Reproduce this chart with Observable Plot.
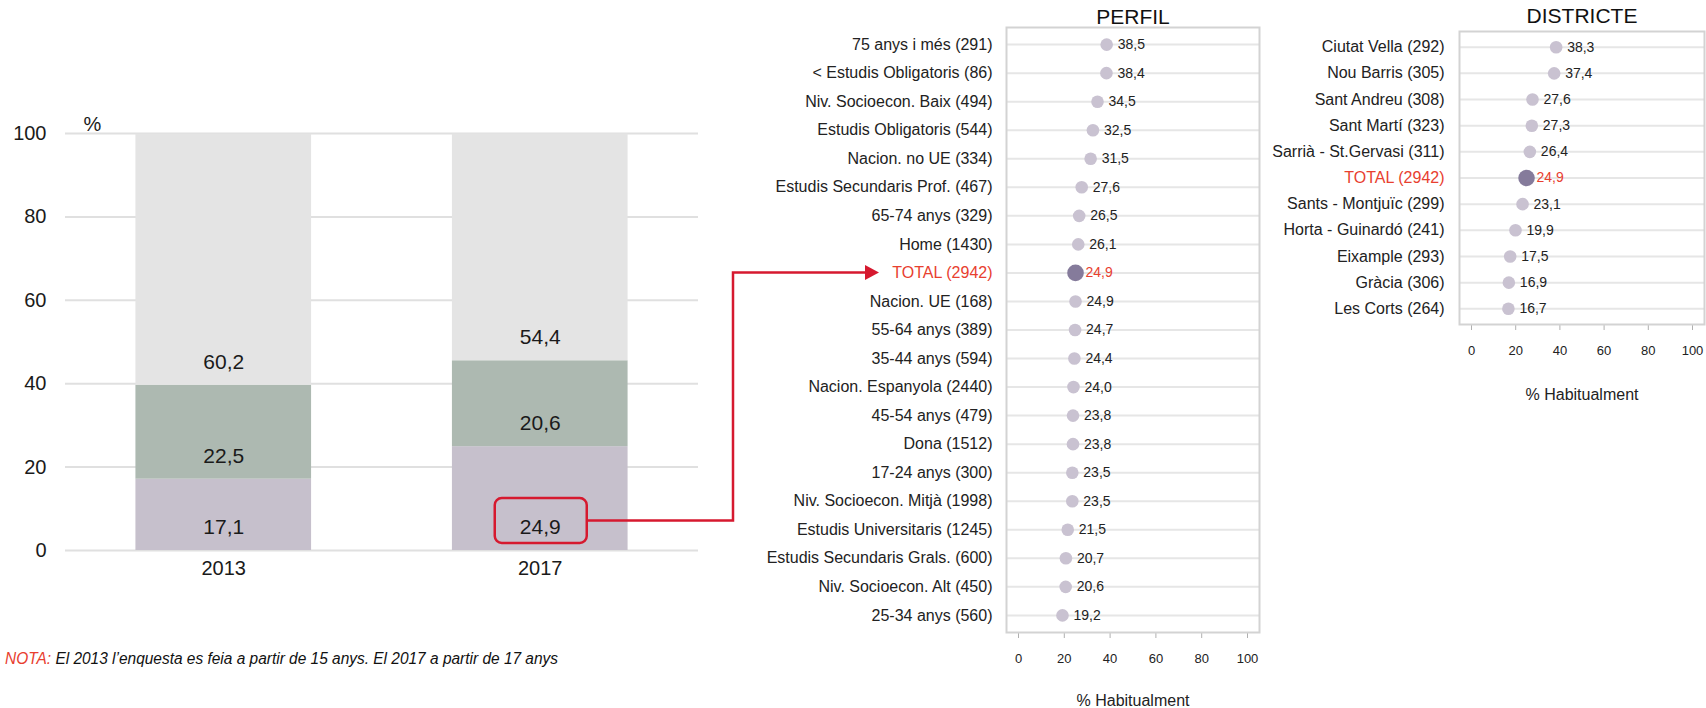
<!DOCTYPE html>
<html>
<head>
<meta charset="utf-8">
<script src="https://cdn.jsdelivr.net/npm/d3@7"></script>
<script src="https://cdn.jsdelivr.net/npm/@observablehq/plot@0.6"></script>
<style>
html, body { margin: 0; padding: 0; background: #fff; }
#wrap { position: relative; width: 1706px; height: 708px; overflow: hidden; font-family: "Liberation Sans", Arial, sans-serif; }
#wrap > svg { position: absolute; left: 0; top: 0; }
#nota { position: absolute; left: 5px; top: 650px; font-family: "Liberation Sans Narrow", "Arial Narrow", "Liberation Sans", sans-serif; font-style: italic; font-size: 16px; color: #111; white-space: nowrap; transform: scaleX(0.966); transform-origin: left center; }
#nota span { color: #e8402f; }
.dotpanel [aria-label^="x-axis"] line, .dotpanel [aria-label^="x-axis tick"] path, .dotpanel [aria-label="x-axis tick"] { stroke: #b0b0b0; }
</style>
</head>
<body>
<div id="wrap">
  <div id="nota"><span>NOTA:</span> El 2013 l’enquesta es feia a partir de 15 anys. El 2017 a partir de 17 anys</div>
</div>
<script>
// ---------- data ----------
const years = ["2013", "2017"];
const series = ["Habitualment", "Ocasionalment", "Mai"]; // stacked bottom → top
const values2013 = [17.1, 22.5, 60.2];
const values2017 = [24.9, 20.6, 54.4];
const barColors = ["#c6c0cc", "#adb9b1", "#e4e4e4"];
const yTicks = [0, 20, 40, 60, 80, 100];
const xTicks = [0, 20, 40, 60, 80, 100];

const perfilLabels = [
  "75 anys i més (291)", "< Estudis Obligatoris (86)", "Niv. Socioecon. Baix (494)",
  "Estudis Obligatoris (544)", "Nacion. no UE (334)", "Estudis Secundaris Prof. (467)",
  "65-74 anys (329)", "Home (1430)", "TOTAL (2942)", "Nacion. UE (168)", "55-64 anys (389)",
  "35-44 anys (594)", "Nacion. Espanyola (2440)", "45-54 anys (479)", "Dona (1512)",
  "17-24 anys (300)", "Niv. Socioecon. Mitjà (1998)", "Estudis Universitaris (1245)",
  "Estudis Secundaris Grals. (600)", "Niv. Socioecon. Alt (450)", "25-34 anys (560)"
];
const perfilValues = [38.5, 38.4, 34.5, 32.5, 31.5, 27.6, 26.5, 26.1, 24.9, 24.9, 24.7,
  24.4, 24.0, 23.8, 23.8, 23.5, 23.5, 21.5, 20.7, 20.6, 19.2];

const districteLabels = [
  "Ciutat Vella (292)", "Nou Barris (305)", "Sant Andreu (308)", "Sant Martí (323)",
  "Sarrià - St.Gervasi (311)", "TOTAL (2942)", "Sants - Montjuïc (299)",
  "Horta - Guinardó (241)", "Eixample (293)", "Gràcia (306)", "Les Corts (264)"
];
const districteValues = [38.3, 37.4, 27.6, 27.3, 26.4, 24.9, 23.1, 19.9, 17.5, 16.9, 16.7];

const totalLabel = "TOTAL (2942)";
const axisTitle = "% Habitualment";

// ---------- helpers ----------
const W = 1706;
const FONT = '"Liberation Sans", Arial, sans-serif';
const INK = "#1a1a1a";
const RED = "#e8402f";
const LINE_RED = "#d6192f";
const fmt = v => d3.format(".1f")(v).replace(".", ",");
const wrap = document.getElementById("wrap");

function scaleApply(s, v) {
  if (s && typeof s.apply === "function") return s.apply(v);
  let sc;
  if (s.type === "band") {
    sc = d3.scaleBand().domain(s.domain).range(s.range)
      .paddingInner(s.paddingInner ?? 0).paddingOuter(s.paddingOuter ?? 0).align(s.align ?? 0.5);
  } else if (s.type === "point") {
    sc = d3.scalePoint().domain(s.domain).range(s.range).padding(s.padding ?? 0).align(s.align ?? 0.5);
  } else {
    sc = d3.scaleLinear().domain(s.domain).range(s.range);
  }
  return sc(v);
}
function bandwidthOf(s) {
  if (s.bandwidth != null) return s.bandwidth;
  return d3.scaleBand().domain(s.domain).range(s.range)
    .paddingInner(s.paddingInner ?? 0).paddingOuter(s.paddingOuter ?? 0).bandwidth();
}

// ---------- stacked bar chart ----------
const bars = [];
[values2013, values2017].forEach((vals, i) => {
  let acc = 0;
  vals.forEach((v, j) => {
    bars.push({year: years[i], series: series[j], value: v, start: acc});
    acc += v;
  });
});

const barFrameRight = 698;
const barChart = Plot.plot({
  width: W, height: 600,
  marginLeft: 65, marginRight: W - barFrameRight, marginTop: 133, marginBottom: 50,
  style: {fontFamily: FONT, fontSize: "20px", background: "transparent", color: INK, overflow: "visible"},
  x: {domain: years, paddingInner: 0.445, paddingOuter: 0.2225, round: false, label: null, tickSize: 0, tickPadding: 10},
  y: {domain: [0, 100], ticks: yTicks, label: null, tickSize: 0, tickPadding: 19},
  color: {domain: series, range: barColors},
  marks: [
    Plot.ruleY(yTicks, {stroke: "#e0e0e0", strokeWidth: 2}),
    Plot.barY(bars, {x: "year", y: "value", fill: "series"}),
    Plot.text(bars, {x: "year", y: "start", text: d => fmt(d.value), dy: -23, fontSize: 21, fill: INK}),
    Plot.text(["%"], {frameAnchor: "top-left", dx: 18, dy: -17, fontSize: 20, fill: INK})
  ]
});
wrap.appendChild(barChart);

// ---------- dot panels ----------
function dotPanel(labels, values, o) {
  const rows = labels.map((label, i) => ({label, value: values[i], total: label === totalLabel}));
  const svg = Plot.plot({
    width: W, height: o.height,
    marginLeft: o.left, marginRight: W - o.right, marginTop: o.top, marginBottom: o.height - o.bottom,
    style: {fontFamily: FONT, fontSize: "13px", background: "transparent", color: "#222", overflow: "visible"},
    x: {domain: [0, 100], ticks: xTicks, inset: 12, label: null, tickSize: 6, tickPadding: 15},
    y: {type: "point", domain: labels, padding: 0.6, round: false, axis: null},
    marks: [
      Plot.ruleY(labels, {stroke: "#e6e6e6", strokeWidth: 2}),
      Plot.frame({stroke: "#d3d3d3", strokeWidth: 2}),
      Plot.dot(rows, {filter: d => !d.total, x: "value", y: "label", r: 6.3, fill: "#c9c2d1", stroke: null}),
      Plot.dot(rows, {filter: d => d.total, x: "value", y: "label", r: 8.3, fill: "#857b9b", stroke: null}),
      Plot.text(rows, {filter: d => !d.total, x: "value", y: "label", text: d => fmt(d.value), dx: 11, textAnchor: "start", fontSize: 14, fill: "#222"}),
      Plot.text(rows, {filter: d => d.total, x: "value", y: "label", text: d => fmt(d.value), dx: 10, textAnchor: "start", fontSize: 14, fill: RED}),
      Plot.text(rows, {filter: d => !d.total, y: "label", text: "label", frameAnchor: "left", textAnchor: "end", dx: -o.gap, fontSize: 16, fill: "#222"}),
      Plot.text(rows, {filter: d => d.total, y: "label", text: "label", frameAnchor: "left", textAnchor: "end", dx: -o.gap, fontSize: 16, fill: RED}),
      Plot.text([o.title], {frameAnchor: "top", lineAnchor: "middle", dy: o.titleDy, fontSize: 21, fill: "#111"}),
      Plot.text([axisTitle], {frameAnchor: "bottom", lineAnchor: "middle", dy: o.axisDy, fontSize: 16, fill: "#222"})
    ]
  });
  svg.classList.add("dotpanel");
  wrap.appendChild(svg);
  return svg;
}

const perfilLeft = 1006;
const perfilChart = dotPanel(perfilLabels, perfilValues, {
  height: 708, left: perfilLeft, right: 1259, top: 27, bottom: 632,
  gap: 14, title: "PERFIL", titleDy: -10, axisDy: 68
});
const districteChart = dotPanel(districteLabels, districteValues, {
  height: 420, left: 1459, right: 1704, top: 31, bottom: 324,
  gap: 15, title: "DISTRICTE", titleDy: -15, axisDy: 70
});

// ---------- highlight box + connector ----------
const bx = barChart.scale("x"), by = barChart.scale("y"), py = perfilChart.scale("y");
const labelX = scaleApply(bx, "2017") + bandwidthOf(bx) / 2;
const labelY = scaleApply(by, 0) - 23;
const boxL = labelX - 45, boxR = labelX + 47, boxT = labelY - 29, boxB = labelY + 16;
const midY = (boxT + boxB) / 2;
const elbowX = bx.range[1] + 35;
const totalY = scaleApply(py, totalLabel);
const tipX = perfilLeft - 127;

const ov = d3.create("svg").attr("width", W).attr("height", 708)
  .style("position", "absolute").style("left", "0").style("top", "0").style("overflow", "visible");
ov.append("rect").attr("x", boxL).attr("y", boxT).attr("width", boxR - boxL).attr("height", boxB - boxT)
  .attr("rx", 7).attr("fill", "none").attr("stroke", LINE_RED).attr("stroke-width", 2.5);
ov.append("path").attr("d", `M${boxR},${midY}H${elbowX}V${totalY}H${tipX - 13}`)
  .attr("fill", "none").attr("stroke", LINE_RED).attr("stroke-width", 2.5);
ov.append("path").attr("d", `M${tipX - 14},${totalY - 7.5}L${tipX},${totalY}L${tipX - 14},${totalY + 7.5}Z`)
  .attr("fill", LINE_RED);
wrap.appendChild(ov.node());
</script>
</body>
</html>
